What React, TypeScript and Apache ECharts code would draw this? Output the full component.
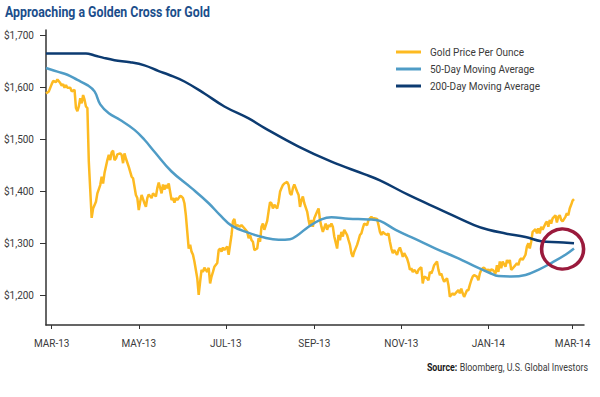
import React, { useEffect, useRef } from "react";
import * as echarts from "echarts";

const FONT = "Roboto, 'Liberation Sans', sans-serif";

const titleText = "Approaching a Golden Cross for Gold";
const sourceLabel = "Source:";
const sourceText = "Bloomberg, U.S. Global Investors";

const seriesNames = ["Gold Price Per Ounce", "50-Day Moving Average", "200-Day Moving Average"];

const axisStart = "2013-02-25";
const axisEnd = "2014-03-09";

const tickDates = ["2013-03-01", "2013-05-01", "2013-07-01", "2013-09-01", "2013-11-01", "2014-01-01", "2014-03-01"];
const tickLabels = ["MAR-13", "MAY-13", "JUL-13", "SEP-13", "NOV-13", "JAN-14", "MAR-14"];

const yTicks = [1200, 1300, 1400, 1500, 1600, 1700];
const yMin = 1143;
const yMax = 1710;

const gold: [string, number][] = [
  ["2013-02-25", 1588], ["2013-02-27", 1592], ["2013-03-01", 1606], ["2013-03-02", 1612], ["2013-03-04", 1610],
  ["2013-03-05", 1615], ["2013-03-07", 1608], ["2013-03-08", 1603], ["2013-03-09", 1606], ["2013-03-10", 1599],
  ["2013-03-11", 1604], ["2013-03-12", 1599], ["2013-03-14", 1599], ["2013-03-15", 1592], ["2013-03-17", 1595],
  ["2013-03-18", 1560], ["2013-03-19", 1554], ["2013-03-20", 1563], ["2013-03-21", 1579], ["2013-03-22", 1569],
  ["2013-03-23", 1585], ["2013-03-24", 1576], ["2013-03-25", 1563], ["2013-03-26", 1560], ["2013-03-27", 1457],
  ["2013-03-29", 1349], ["2013-03-30", 1367], ["2013-04-01", 1380], ["2013-04-02", 1396], ["2013-04-04", 1412],
  ["2013-04-05", 1428], ["2013-04-06", 1415], ["2013-04-07", 1435], ["2013-04-09", 1460], ["2013-04-10", 1470],
  ["2013-04-11", 1460], ["2013-04-12", 1475], ["2013-04-13", 1478], ["2013-04-14", 1460], ["2013-04-15", 1463],
  ["2013-04-16", 1471], ["2013-04-18", 1473], ["2013-04-19", 1470], ["2013-04-20", 1454], ["2013-04-21", 1473],
  ["2013-04-22", 1463], ["2013-04-24", 1447], ["2013-04-26", 1428], ["2013-04-27", 1425], ["2013-04-29", 1393],
  ["2013-04-30", 1387], ["2013-05-01", 1364], ["2013-05-02", 1380], ["2013-05-03", 1393], ["2013-05-05", 1377],
  ["2013-05-06", 1370], ["2013-05-07", 1387], ["2013-05-08", 1394], ["2013-05-10", 1387], ["2013-05-11", 1396],
  ["2013-05-13", 1390], ["2013-05-14", 1406], ["2013-05-15", 1417], ["2013-05-17", 1396], ["2013-05-18", 1413],
  ["2013-05-19", 1403], ["2013-05-20", 1412], ["2013-05-21", 1406], ["2013-05-22", 1415], ["2013-05-24", 1383],
  ["2013-05-25", 1387], ["2013-05-26", 1378], ["2013-05-27", 1387], ["2013-05-28", 1383], ["2013-05-30", 1391],
  ["2013-05-31", 1390], ["2013-06-01", 1387], ["2013-06-02", 1377], ["2013-06-03", 1354], ["2013-06-04", 1322],
  ["2013-06-05", 1290], ["2013-06-06", 1297], ["2013-06-07", 1284], ["2013-06-08", 1278], ["2013-06-09", 1265],
  ["2013-06-11", 1233], ["2013-06-12", 1201], ["2013-06-13", 1226], ["2013-06-14", 1249], ["2013-06-15", 1245],
  ["2013-06-16", 1253], ["2013-06-18", 1245], ["2013-06-19", 1253], ["2013-06-20", 1223], ["2013-06-21", 1236],
  ["2013-06-22", 1245], ["2013-06-23", 1255], ["2013-06-25", 1262], ["2013-06-26", 1287], ["2013-06-27", 1290],
  ["2013-06-28", 1284], ["2013-06-29", 1292], ["2013-06-30", 1287], ["2013-07-02", 1294], ["2013-07-03", 1278],
  ["2013-07-04", 1297], ["2013-07-05", 1316], ["2013-07-06", 1342], ["2013-07-07", 1347], ["2013-07-08", 1332],
  ["2013-07-09", 1335], ["2013-07-11", 1332], ["2013-07-12", 1335], ["2013-07-14", 1329], ["2013-07-16", 1322],
  ["2013-07-17", 1310], ["2013-07-18", 1316], ["2013-07-19", 1306], ["2013-07-20", 1303], ["2013-07-21", 1287],
  ["2013-07-23", 1290], ["2013-07-24", 1310], ["2013-07-25", 1303], ["2013-07-26", 1332], ["2013-07-27", 1338],
  ["2013-07-28", 1326], ["2013-07-30", 1343], ["2013-07-31", 1362], ["2013-08-01", 1379], ["2013-08-02", 1377],
  ["2013-08-03", 1367], ["2013-08-04", 1374], ["2013-08-06", 1367], ["2013-08-07", 1380], ["2013-08-08", 1399],
  ["2013-08-09", 1406], ["2013-08-10", 1412], ["2013-08-11", 1415], ["2013-08-13", 1418], ["2013-08-14", 1412],
  ["2013-08-15", 1396], ["2013-08-16", 1393], ["2013-08-17", 1406], ["2013-08-18", 1413], ["2013-08-20", 1399],
  ["2013-08-21", 1393], ["2013-08-22", 1370], ["2013-08-23", 1383], ["2013-08-24", 1390], ["2013-08-25", 1377],
  ["2013-08-27", 1361], ["2013-08-28", 1345], ["2013-08-29", 1332], ["2013-08-30", 1345], ["2013-08-31", 1332],
  ["2013-09-01", 1348], ["2013-09-03", 1361], ["2013-09-04", 1367], ["2013-09-05", 1345], ["2013-09-06", 1332],
  ["2013-09-07", 1322], ["2013-09-09", 1338], ["2013-09-10", 1326], ["2013-09-11", 1335], ["2013-09-12", 1332],
  ["2013-09-13", 1338], ["2013-09-14", 1332], ["2013-09-15", 1313], ["2013-09-17", 1290], ["2013-09-18", 1316],
  ["2013-09-19", 1306], ["2013-09-20", 1322], ["2013-09-21", 1313], ["2013-09-22", 1326], ["2013-09-24", 1316],
  ["2013-09-25", 1306], ["2013-09-26", 1297], ["2013-09-27", 1281], ["2013-09-28", 1274], ["2013-09-29", 1284],
  ["2013-10-01", 1297], ["2013-10-02", 1306], ["2013-10-03", 1316], ["2013-10-04", 1319], ["2013-10-05", 1329],
  ["2013-10-06", 1338], ["2013-10-08", 1335], ["2013-10-09", 1345], ["2013-10-10", 1348], ["2013-10-11", 1351],
  ["2013-10-12", 1348], ["2013-10-13", 1348], ["2013-10-15", 1347], ["2013-10-16", 1335], ["2013-10-17", 1322],
  ["2013-10-18", 1316], ["2013-10-19", 1322], ["2013-10-20", 1319], ["2013-10-22", 1316], ["2013-10-23", 1319],
  ["2013-10-24", 1303], ["2013-10-25", 1290], ["2013-10-26", 1281], ["2013-10-27", 1287], ["2013-10-29", 1278],
  ["2013-10-30", 1287], ["2013-10-31", 1292], ["2013-11-01", 1284], ["2013-11-02", 1274], ["2013-11-03", 1281],
  ["2013-11-05", 1271], ["2013-11-06", 1262], ["2013-11-07", 1249], ["2013-11-08", 1252], ["2013-11-09", 1245],
  ["2013-11-10", 1249], ["2013-11-12", 1242], ["2013-11-13", 1249], ["2013-11-14", 1252], ["2013-11-15", 1254],
  ["2013-11-16", 1223], ["2013-11-17", 1236], ["2013-11-19", 1233], ["2013-11-20", 1229], ["2013-11-21", 1245],
  ["2013-11-22", 1242], ["2013-11-23", 1249], ["2013-11-24", 1258], ["2013-11-26", 1265], ["2013-11-27", 1249],
  ["2013-11-28", 1239], ["2013-11-29", 1242], ["2013-11-30", 1233], ["2013-12-01", 1226], ["2013-12-03", 1233],
  ["2013-12-04", 1220], ["2013-12-05", 1197], ["2013-12-06", 1201], ["2013-12-07", 1204], ["2013-12-08", 1201],
  ["2013-12-10", 1207], ["2013-12-11", 1210], ["2013-12-12", 1204], ["2013-12-13", 1213], ["2013-12-14", 1204],
  ["2013-12-15", 1197], ["2013-12-17", 1210], ["2013-12-18", 1210], ["2013-12-19", 1220], ["2013-12-20", 1229],
  ["2013-12-21", 1236], ["2013-12-22", 1239], ["2013-12-24", 1236], ["2013-12-25", 1229], ["2013-12-26", 1242],
  ["2013-12-27", 1249], ["2013-12-28", 1252], ["2013-12-29", 1253], ["2013-12-31", 1247], ["2014-01-01", 1250],
  ["2014-01-02", 1245], ["2014-01-03", 1250], ["2014-01-04", 1249], ["2014-01-06", 1242], ["2014-01-07", 1258],
  ["2014-01-08", 1245], ["2014-01-09", 1265], ["2014-01-10", 1252], ["2014-01-11", 1265], ["2014-01-13", 1255],
  ["2014-01-14", 1268], ["2014-01-15", 1262], ["2014-01-16", 1268], ["2014-01-17", 1249], ["2014-01-18", 1252],
  ["2014-01-20", 1258], ["2014-01-21", 1262], ["2014-01-22", 1258], ["2014-01-23", 1268], ["2014-01-24", 1271],
  ["2014-01-25", 1268], ["2014-01-27", 1278], ["2014-01-28", 1294], ["2014-01-29", 1300], ["2014-01-30", 1290],
  ["2014-01-31", 1303], ["2014-02-01", 1322], ["2014-02-03", 1327], ["2014-02-04", 1319], ["2014-02-05", 1329],
  ["2014-02-06", 1319], ["2014-02-07", 1332], ["2014-02-08", 1326], ["2014-02-10", 1338], ["2014-02-11", 1342],
  ["2014-02-12", 1332], ["2014-02-13", 1345], ["2014-02-14", 1338], ["2014-02-15", 1348], ["2014-02-17", 1354],
  ["2014-02-18", 1340], ["2014-02-19", 1351], ["2014-02-20", 1354], ["2014-02-21", 1345], ["2014-02-22", 1342],
  ["2014-02-24", 1351], ["2014-02-25", 1358], ["2014-02-26", 1354], ["2014-02-27", 1367], ["2014-02-28", 1374],
  ["2014-03-01", 1382], ["2014-03-02", 1385],
];

const ma50: [string, number][] = [
  ["2013-02-25", 1637], ["2013-03-05", 1630], ["2013-03-12", 1624], ["2013-03-19", 1614], ["2013-03-26", 1604],
  ["2013-03-31", 1592], ["2013-04-04", 1567], ["2013-04-10", 1550], ["2013-04-18", 1537], ["2013-04-28", 1518],
  ["2013-05-05", 1499], ["2013-05-12", 1476], ["2013-05-24", 1438], ["2013-06-07", 1406], ["2013-06-19", 1377],
  ["2013-06-27", 1354], ["2013-07-05", 1334], ["2013-07-17", 1320], ["2013-07-28", 1311], ["2013-08-07", 1307],
  ["2013-08-15", 1308], ["2013-08-20", 1315], ["2013-08-28", 1332], ["2013-09-06", 1346], ["2013-09-13", 1350],
  ["2013-09-25", 1347], ["2013-10-09", 1346], ["2013-10-17", 1343], ["2013-10-28", 1326], ["2013-11-11", 1308],
  ["2013-11-25", 1290], ["2013-12-11", 1271], ["2013-12-23", 1255], ["2014-01-02", 1243], ["2014-01-08", 1237],
  ["2014-01-17", 1236], ["2014-01-27", 1239], ["2014-02-05", 1249], ["2014-02-14", 1262], ["2014-02-24", 1278],
  ["2014-03-02", 1290],
];

const ma200: [string, number][] = [
  ["2013-02-25", 1665], ["2013-03-25", 1665], ["2013-03-31", 1661], ["2013-04-07", 1656], ["2013-04-14", 1652],
  ["2013-04-25", 1648], ["2013-05-05", 1642], ["2013-05-15", 1631], ["2013-05-22", 1624], ["2013-06-02", 1611],
  ["2013-06-16", 1588], ["2013-06-30", 1563], ["2013-07-17", 1540], ["2013-07-28", 1522], ["2013-08-21", 1486],
  ["2013-09-13", 1457], ["2013-10-06", 1433], ["2013-10-17", 1421], ["2013-11-06", 1393], ["2013-11-29", 1364],
  ["2013-12-22", 1335], ["2014-01-01", 1326], ["2014-01-13", 1319], ["2014-01-27", 1312], ["2014-02-07", 1304],
  ["2014-02-19", 1302], ["2014-03-02", 1300],
];

const crossHighlight: [string, number][] = [["2014-02-22", 1289]];

const colors = {
  gold: "#FDBA21",
  ma50: "#4F9CC6",
  ma200: "#0C3B71",
  circle: "#9A1A3C",
  title: "#1B4E8B",
  axis: "#333333",
  text: "#3a3a3a",
};

function buildCategories(start: string, end: string): string[] {
  const out: string[] = [];
  const [sy, sm, sd] = start.split("-").map(Number);
  const [ey, em, ed] = end.split("-").map(Number);
  let t = Date.UTC(sy, sm - 1, sd);
  const last = Date.UTC(ey, em - 1, ed);
  while (t <= last) {
    out.push(new Date(t).toISOString().slice(0, 10));
    t += 86400000;
  }
  return out;
}

function measure(text: string, font: string): number {
  const ctx = document.createElement("canvas").getContext("2d");
  if (!ctx) return text.length * 6;
  ctx.font = font;
  return ctx.measureText(text).width;
}

export default function App() {
  const ref = useRef<HTMLDivElement>(null);
  useEffect(() => {
    if (!ref.current) return;
    const chart = echarts.init(ref.current, undefined, { renderer: "svg" });
    const categories = buildCategories(axisStart, axisEnd);
    const isTick = (_i: number, v: string) => tickDates.indexOf(v) >= 0;

    const titleFont = "bold 14px Roboto";
    const titleScale = 205 / measure(titleText, titleFont);
    const srcBoldFont = "bold 10.5px Roboto";
    const srcFont = "10.5px Roboto";
    const srcW = measure(sourceLabel, srcBoldFont) + measure(" " + sourceText, srcFont);
    const srcScale = 161 / srcW;

    chart.setOption({
      animation: false,
      backgroundColor: "#ffffff",
      textStyle: { fontFamily: FONT },
      legend: {
        data: seriesNames,
        orient: "vertical",
        left: 396,
        top: 46,
        padding: 0,
        icon: "rect",
        itemWidth: 25,
        itemHeight: 3,
        itemGap: 5,
        textStyle: { fontSize: 10, color: colors.text, fontFamily: FONT, lineHeight: 12, padding: [0, 0, 0, 4] },
      },
      graphic: [
        {
          type: "text",
          x: 5,
          y: 12,
          scaleX: titleScale,
          style: {
            text: titleText,
            fontFamily: "Roboto",
            fontSize: 14,
            fontWeight: "bold",
            fill: colors.title,
            align: "left",
            verticalAlign: "middle",
          },
        },
        {
          type: "text",
          x: 588,
          y: 367,
          scaleX: srcScale,
          style: {
            text: "{b|" + sourceLabel + "} " + sourceText,
            fontFamily: "Roboto",
            fontSize: 10.5,
            fill: colors.text,
            align: "right",
            verticalAlign: "middle",
            rich: { b: { fontFamily: "Roboto", fontSize: 10.5, fontWeight: "bold", fill: "#1a1a1a" } },
          },
        },
      ],
      grid: { left: 46, right: 16, top: 30, bottom: 72, containLabel: false },
      xAxis: {
        type: "category",
        data: categories,
        boundaryGap: false,
        axisLine: { show: true, lineStyle: { color: colors.axis, width: 1.5 } },
        axisTick: { show: true, interval: isTick, length: 4, lineStyle: { color: colors.axis, width: 1 } },
        axisLabel: {
          interval: isTick,
          margin: 13,
          fontSize: 10,
          color: colors.text,
          fontFamily: FONT,
          formatter: (v: string) => {
            const i = tickDates.indexOf(v);
            return i >= 0 ? tickLabels[i] : "";
          },
        },
        splitLine: { show: false },
      },
      yAxis: {
        type: "value",
        min: yMin,
        max: yMax,
        axisLine: { show: true, lineStyle: { color: colors.axis, width: 1.5 } },
        axisTick: { show: true, length: 6, customValues: yTicks, lineStyle: { color: colors.axis, width: 1 } },
        axisLabel: {
          customValues: yTicks,
          margin: 12,
          fontSize: 10,
          color: colors.text,
          fontFamily: FONT,
          formatter: (v: number) => "$" + v.toLocaleString("en-US"),
        },
        splitLine: { show: false },
      },
      series: [
        {
          name: seriesNames[0],
          type: "line",
          data: gold,
          showSymbol: false,
          symbol: "none",
          lineStyle: { color: colors.gold, width: 2.5 },
          itemStyle: { color: colors.gold },
          z: 2,
        },
        {
          name: seriesNames[1],
          type: "line",
          data: ma50,
          smooth: 0.4,
          showSymbol: false,
          symbol: "none",
          lineStyle: { color: colors.ma50, width: 2.5 },
          itemStyle: { color: colors.ma50 },
          z: 3,
        },
        {
          name: seriesNames[2],
          type: "line",
          data: ma200,
          smooth: 0.4,
          showSymbol: false,
          symbol: "none",
          lineStyle: { color: colors.ma200, width: 2.5 },
          itemStyle: { color: colors.ma200 },
          z: 4,
        },
        {
          name: "cross",
          type: "scatter",
          data: crossHighlight,
          symbol: "circle",
          symbolSize: [42, 40],
          silent: true,
          itemStyle: { color: "rgba(255,255,255,0)", borderColor: colors.circle, borderWidth: 3.5, opacity: 1 },
          z: 5,
        },
      ],
    });
    return () => chart.dispose();
  }, []);
  return <div ref={ref} style={{ position: "fixed", left: 0, top: 0, width: 600, height: 397 }} />;
}
